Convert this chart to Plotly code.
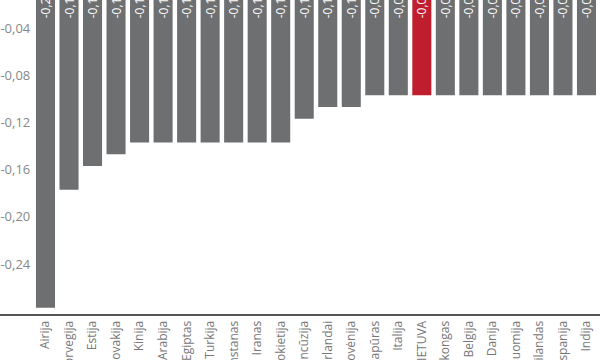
import plotly.graph_objects as go

countries = ["Airija", "Norvegija", "Estija", "Slovakija", "Kinija", "Saudo Arabija",
             "Egiptas", "Turkija", "Kazachstanas", "Iranas", "Vokietija", "Prancūzija",
             "Nyderlandai", "Slovėnija", "Singapūras", "Italija", "LIETUVA", "Honkongas",
             "Belgija", "Danija", "Suomija", "Tailandas", "Ispanija", "Indija"]
values = [-0.277, -0.177, -0.157, -0.147, -0.137, -0.137,
          -0.137, -0.137, -0.137, -0.137, -0.137, -0.117,
          -0.107, -0.107, -0.097, -0.097, -0.097, -0.097,
          -0.097, -0.097, -0.097, -0.097, -0.097, -0.097]
highlight = "LIETUVA"
y_ticks = [-0.04, -0.08, -0.12, -0.16, -0.20, -0.24]
y_ticktext = ["-0,04", "-0,08", "-0,12", "-0,16", "-0,20", "-0,24"]

grey = "#6d6f71"
red = "#be1e2d"
colors = [red if c == highlight else grey for c in countries]
labels = [f"{v:.3f}".replace(".", ",") for v in values]

fig = go.Figure(go.Bar(
    x=countries, y=values, marker=dict(color=colors, line=dict(width=0)),
    text=labels, textposition="inside", textangle=-90, insidetextanchor="start",
    insidetextfont=dict(family="Open Sans", size=12, color="white"),
    constraintext="none", cliponaxis=True,
))

fig.update_layout(
    width=600, height=360,
    margin=dict(l=0, r=0, t=0, b=46, autoexpand=False),
    paper_bgcolor="white", plot_bgcolor="white",
    bargap=0.19, showlegend=False,
    font=dict(family="Open Sans"),
    xaxis=dict(
        type="category", range=[-1.934, 23.575], automargin=False,
        showline=True, linecolor="#555", linewidth=2,
        showgrid=False, ticks="", tickangle=-90,
        tickfont=dict(family="Open Sans", size=12, color="#777"),
        zeroline=False,
    ),
    yaxis=dict(
        range=[-0.28237, -0.01627], automargin=False,
        showline=True, linecolor="#333", linewidth=2,
        showgrid=False, zeroline=False, ticks="",
        tickvals=y_ticks, ticktext=y_ticktext,
        ticklabelposition="inside",
        tickfont=dict(family="Open Sans", size=13, color="#888"),
    ),
)

fig.write_html("out.html", config={"displayModeBar": False},
               post_script="document.body.style.margin='0';document.body.style.overflow='hidden';")
